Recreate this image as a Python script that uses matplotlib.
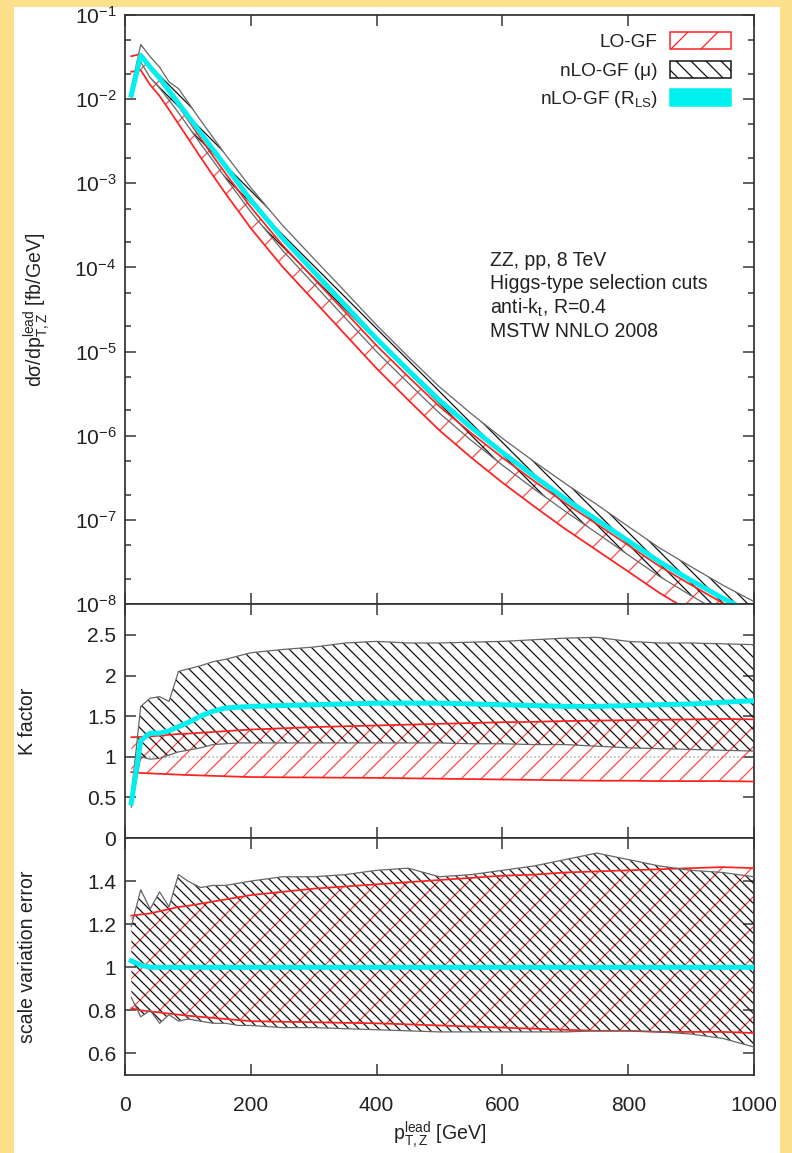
import numpy as np
import matplotlib.pyplot as plt
from matplotlib.patches import Patch, Rectangle
from matplotlib.ticker import NullFormatter, FixedLocator, FuncFormatter

plt.rcParams['font.family'] = ['Liberation Sans', 'DejaVu Sans']
plt.rcParams['mathtext.fontset'] = 'custom'
plt.rcParams['mathtext.rm'] = 'Liberation Sans'
plt.rcParams['mathtext.it'] = 'Liberation Sans:italic'
plt.rcParams['mathtext.default'] = 'regular'
plt.rcParams['axes.unicode_minus'] = False
plt.rcParams['hatch.linewidth'] = 0.5

# leading Z pT bins [GeV]
pt = [10, 25, 40, 55, 70, 85, 100, 120, 140, 160, 180, 200, 250, 300, 350,
      400, 450, 500, 550, 600, 650, 700, 750, 800, 850, 900, 950, 1000]

# log10 of nLO-GF (R_LS) distribution [fb/GeV]
log_nlo_rls = [-1.95, -1.48, -1.62, -1.75, -1.90, -2.05, -2.20, -2.40, -2.60, -2.80,
               -3.00, -3.20, -3.65, -4.05, -4.45, -4.85, -5.22, -5.58, -5.90, -6.20,
               -6.48, -6.75, -7.00, -7.25, -7.50, -7.72, -7.93, -8.12]

# K factor panel (ratio to LO central)
k_rls = [0.43, 1.20, 1.29, 1.29, 1.32, 1.37, 1.42, 1.50, 1.56, 1.60, 1.61, 1.62, 1.63, 1.64,
         1.65, 1.66, 1.66, 1.66, 1.65, 1.64, 1.63, 1.62, 1.62, 1.63, 1.64, 1.65, 1.67, 1.69]
k_nlo_lo = [0.38, 1.00, 0.97, 0.98, 1.02, 1.06, 1.08, 1.11, 1.15, 1.16, 1.17, 1.17, 1.17, 1.17,
            1.17, 1.17, 1.17, 1.17, 1.16, 1.16, 1.15, 1.15, 1.13, 1.11, 1.10, 1.09, 1.08, 1.07]
k_nlo_hi = [0.52, 1.62, 1.72, 1.74, 1.68, 2.05, 2.08, 2.12, 2.17, 2.20, 2.24, 2.28, 2.32, 2.35,
            2.40, 2.42, 2.40, 2.40, 2.41, 2.42, 2.44, 2.46, 2.47, 2.42, 2.40, 2.40, 2.39, 2.38]

# LO scale variation, LO(mu) / LO central
lo_var_lo = [0.81, 0.80, 0.795, 0.79, 0.785, 0.78, 0.775, 0.77, 0.765, 0.76, 0.755, 0.75, 0.747,
             0.745, 0.742, 0.74, 0.735, 0.73, 0.725, 0.72, 0.715, 0.71, 0.705, 0.705, 0.70,
             0.70, 0.70, 0.695]
lo_var_hi = [1.24, 1.245, 1.25, 1.26, 1.27, 1.28, 1.285, 1.295, 1.305, 1.315, 1.325, 1.335,
             1.35, 1.365, 1.375, 1.385, 1.395, 1.405, 1.415, 1.425, 1.43, 1.44, 1.445, 1.45,
             1.455, 1.46, 1.465, 1.46]

# nLO scale variation, nLO(mu) / nLO central
nlo_var_lo = [0.86, 0.77, 0.80, 0.74, 0.78, 0.75, 0.76, 0.75, 0.74, 0.74, 0.73, 0.73, 0.72, 0.72,
              0.715, 0.71, 0.705, 0.70, 0.70, 0.70, 0.70, 0.70, 0.705, 0.705, 0.70, 0.69, 0.67, 0.63]
nlo_var_hi = [1.19, 1.36, 1.27, 1.35, 1.28, 1.43, 1.40, 1.37, 1.38, 1.38, 1.39, 1.40, 1.42, 1.42,
              1.43, 1.45, 1.46, 1.42, 1.43, 1.45, 1.47, 1.50, 1.53, 1.50, 1.47, 1.45, 1.44, 1.42]
rls_var = [1.03, 1.01, 1.0, 1.0, 1.0, 1.0, 1.0, 1.0, 1.0, 1.0, 1.0, 1.0, 1.0, 1.0,
           1.0, 1.0, 1.0, 1.0, 1.0, 1.0, 1.0, 1.0, 1.0, 1.0, 1.0, 1.0, 1.0, 1.0]

annot = ['ZZ, pp, 8 TeV', 'Higgs-type selection cuts', 'anti-k$_t$, R=0.4', 'MSTW NNLO 2008']

pt = np.array(pt)
nlo_rls = 10.0 ** np.array(log_nlo_rls)
lo_central = nlo_rls / np.array(k_rls)

RED = '#ff2020'
RED_H = '#ff4a4a'
CYAN = '#00f0f0'
HATCH_K = '#111111'
EDGE = '#666666'
TXT = '#222222'
BS = '\\'

W, H, DPI = 792, 1153, 180
fig = plt.figure(figsize=(W / DPI, H / DPI), dpi=DPI, facecolor='#fde08c')
fig.add_artist(Rectangle((14 / W, 0), (780 - 14) / W, (H - 7) / H, transform=fig.transFigure,
                         facecolor='white', edgecolor='none', zorder=-10))

L, R = 125 / W, 754 / W
def panel(top, bot):
    return fig.add_axes([L, 1 - bot / H, R - L, (bot - top) / H])

ax1 = panel(15, 604)
ax2 = panel(604, 838)
ax3 = panel(838, 1075)

def style(ax):
    for s in ax.spines.values():
        s.set_linewidth(0.7)
        s.set_color('#333333')
    ax.set_xlim(0, 1000)
    ax.xaxis.set_major_locator(FixedLocator([0, 200, 400, 600, 800, 1000]))
    ax.tick_params(which='both', direction='in', top=True, right=True, color='#333333',
                   width=0.6, labelsize=8.4, labelcolor=TXT)
    ax.tick_params(which='major', length=4.5)
    ax.tick_params(which='minor', length=2.5)
    ax.tick_params(axis='y', pad=3.5)
    ax.tick_params(axis='x', pad=8.5)

def bands(ax, lo_a, lo_b, nlo_a, nlo_b, h_red, h_blk):
    ax.fill_between(pt, lo_a, lo_b, facecolor='none', edgecolor=RED_H, hatch=h_red,
                    linewidth=0, zorder=2)
    ax.plot(pt, lo_a, color=RED, lw=0.7, zorder=3)
    ax.plot(pt, lo_b, color=RED, lw=0.7, zorder=3)
    ax.fill_between(pt, nlo_a, nlo_b, facecolor='none', edgecolor=HATCH_K, hatch=h_blk,
                    linewidth=0, zorder=2)
    ax.plot(pt, nlo_a, color=EDGE, lw=0.5, zorder=3)
    ax.plot(pt, nlo_b, color=EDGE, lw=0.5, zorder=3)

for ax in (ax1, ax2, ax3):
    style(ax)
ax1.tick_params(axis='x', labelbottom=False)
ax2.tick_params(axis='x', labelbottom=False)

# top panel: distributions
bands(ax1, lo_central * np.array(lo_var_lo), lo_central * np.array(lo_var_hi),
      lo_central * np.array(k_nlo_lo), lo_central * np.array(k_nlo_hi), '//', BS * 5)
ax1.plot(pt, nlo_rls, color=CYAN, lw=2.0, zorder=4)
ax1.set_yscale('log')
ax1.set_ylim(1e-8, 1e-1)
decades = [10.0 ** e for e in range(-8, 0)]
ax1.yaxis.set_major_locator(FixedLocator(decades))
ax1.yaxis.set_minor_locator(FixedLocator([d * s for d in decades[:-1] for s in (2, 5)]))
ax1.yaxis.set_minor_formatter(NullFormatter())
ax1.set_ylabel('dσ/dp$_{T,Z}^{lead}$ [fb/GeV]', fontsize=7.8, color=TXT, va='center')
ax1.yaxis.set_label_coords(-0.14, 0.5)

handles = [Patch(facecolor='white', edgecolor=RED, hatch='//', linewidth=0.6),
           Patch(facecolor='white', edgecolor=HATCH_K, hatch=BS * 4, linewidth=0.6),
           Patch(facecolor=CYAN, edgecolor=CYAN, linewidth=0.6)]
leg = ax1.legend(handles, ['LO-GF', 'nLO-GF (μ)', 'nLO-GF (R$_{LS}$)'], loc='upper right',
                 bbox_to_anchor=(0.9634, 0.971), borderaxespad=0, borderpad=0, frameon=False,
                 markerfirst=False, fontsize=7.6, handlelength=3.2, handleheight=1.0,
                 handletextpad=0.65, labelspacing=0.5)
for t in leg.get_texts():
    t.set_color(TXT)

for i, line in enumerate(annot):
    ax1.text(0.580, 0.584 - i * 0.0403, line, transform=ax1.transAxes, fontsize=7.8,
             color=TXT, va='center', ha='left')

# middle panel: K factor
ax2.axhline(1, color='#aaaaaa', lw=0.6, ls=':', zorder=1)
bands(ax2, lo_var_lo, lo_var_hi, k_nlo_lo, k_nlo_hi, '///', BS * 5)
ax2.plot(pt, k_rls, color=CYAN, lw=2.0, zorder=4)
ax2.set_ylim(0, 2.88)
ax2.yaxis.set_major_locator(FixedLocator([0, 0.5, 1, 1.5, 2, 2.5]))
ax2.yaxis.set_major_formatter(FuncFormatter(lambda v, p: f'{v:g}'))
ax2.set_ylabel('K factor', fontsize=7.8, color=TXT, va='center')
ax2.yaxis.set_label_coords(-0.155, 0.5)

# bottom panel: scale variation
bands(ax3, lo_var_lo, lo_var_hi, nlo_var_lo, nlo_var_hi, '//', BS * 6)
ax3.plot(pt, rls_var, color=CYAN, lw=2.0, zorder=4)
ax3.set_ylim(0.5, 1.6)
ax3.yaxis.set_major_locator(FixedLocator([0.6, 0.8, 1.0, 1.2, 1.4]))
ax3.yaxis.set_major_formatter(FuncFormatter(lambda v, p: f'{v:g}'))
ax3.set_ylabel('scale variation error', fontsize=7.8, color=TXT, va='center')
ax3.yaxis.set_label_coords(-0.155, 0.5)
ax3.set_xlabel('p$_{T,Z}^{lead}$ [GeV]', fontsize=7.8, color=TXT, labelpad=1.5)

fig.savefig('out.png', dpi=DPI, facecolor=fig.get_facecolor())
